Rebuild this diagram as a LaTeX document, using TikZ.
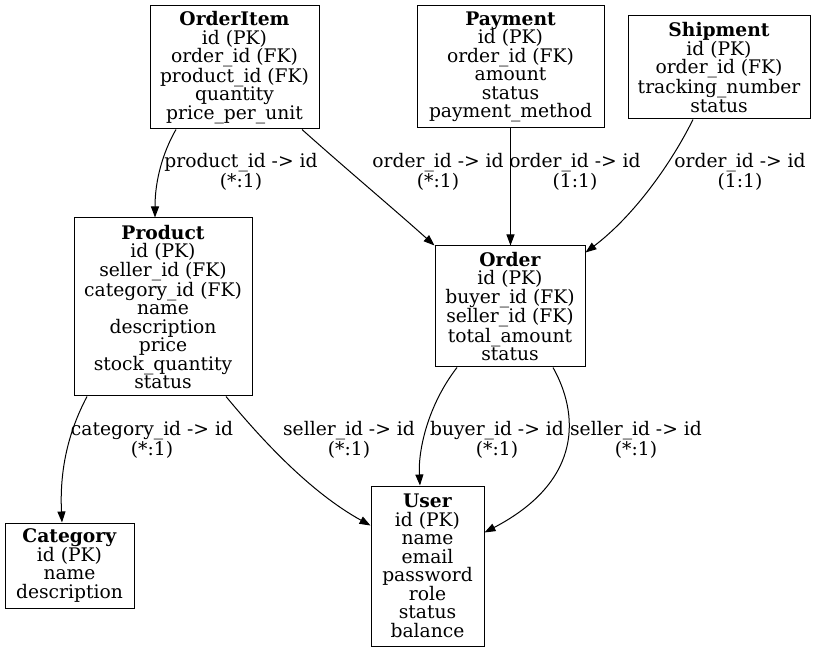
\documentclass[tikz,border=0pt]{standalone}
\usepackage{fontspec}
\setmainfont{DejaVu Serif}
\usetikzlibrary{arrows.meta}
\tikzset{
  ent/.style={draw, line width=1pt, align=center, inner sep=0pt, font=\fontsize{18.7}{18.5}\selectfont},
  lbl/.style={align=center, inner sep=0pt, font=\fontsize{18.7}{18.5}\selectfont},
  rel/.style={line width=1pt, -{Triangle[length=11pt,width=8pt]}}
}
\begin{document}
\begin{tikzpicture}[x=1pt,y=-1pt]
\useasboundingbox (0,0) rectangle (817,652);
\node[ent, minimum width=169pt, minimum height=123pt] (oi) at (234.5,67.5) {\textbf{OrderItem}\\id (PK)\\order\_id (FK)\\product\_id (FK)\\quantity\\price\_per\_unit};
\node[ent, minimum width=187pt, minimum height=122pt] (pay) at (510.5,67) {\textbf{Payment}\\id (PK)\\order\_id (FK)\\amount\\status\\payment\_method};
\node[ent, minimum width=182pt, minimum height=103pt] (sh) at (719,67.5) {\textbf{Shipment}\\id (PK)\\order\_id (FK)\\tracking\_number\\status};
\node[ent, minimum width=178pt, minimum height=178pt] (pr) at (163,307) {\textbf{Product}\\id (PK)\\seller\_id (FK)\\category\_id (FK)\\name\\description\\price\\stock\_quantity\\status};
\node[ent, minimum width=150pt, minimum height=121pt] (od) at (510,306.5) {\textbf{Order}\\id (PK)\\buyer\_id (FK)\\seller\_id (FK)\\total\_amount\\status};
\node[ent, minimum width=129pt, minimum height=85pt] (ca) at (69.5,565.5) {\textbf{Category}\\id (PK)\\name\\description};
\node[ent, minimum width=113pt, minimum height=160pt] (us) at (427.5,566) {\textbf{User}\\id (PK)\\name\\email\\password\\role\\status\\balance};

\draw[rel] ([xshift=-58.5pt]oi.south) .. controls (163,152) and (155,180) .. ([xshift=-8pt]pr.north);
\draw[rel] ([xshift=67.5pt]oi.south) .. controls (345,168) and (395,210) .. (od.north west);
\draw[rel] (pay.south) -- (pay.south |- od.north);
\draw[rel] ([xshift=-26pt]sh.south) .. controls (672,162) and (635,215) .. ([yshift=-7pt]od.north east);
\draw[rel] ([xshift=-76pt]pr.south) .. controls (64,440) and (60,480) .. ([xshift=-7.5pt]ca.north);
\draw[rel] ([xshift=63pt]pr.south) .. controls (262,440) and (310,492) .. ([yshift=-40pt]us.north west);
\draw[rel] ([xshift=-53pt]od.south) .. controls (428,405) and (418,450) .. ([xshift=-7.5pt]us.north);
\draw[rel] ([xshift=43pt]od.south) .. controls (578,412) and (585,480) .. ([yshift=-47pt]us.north east);

\node[lbl] (l1) at (241,172) {product\_id -> id\\(*:1)};
\node[lbl] (l2) at (438,172) {order\_id -> id\\(*:1)};
\node[lbl] (l3) at (575,172) {order\_id -> id\\(1:1)};
\node[lbl] (l4) at (740,172) {order\_id -> id\\(1:1)};
\node[lbl] (l5) at (152,440) {category\_id -> id\\(*:1)};
\node[lbl] (l6) at (349,440) {seller\_id -> id\\(*:1)};
\node[lbl] (l7) at (497,440) {buyer\_id -> id\\(*:1)};
\node[lbl] (l8) at (636,440) {seller\_id -> id\\(*:1)};
\end{tikzpicture}
\end{document}
